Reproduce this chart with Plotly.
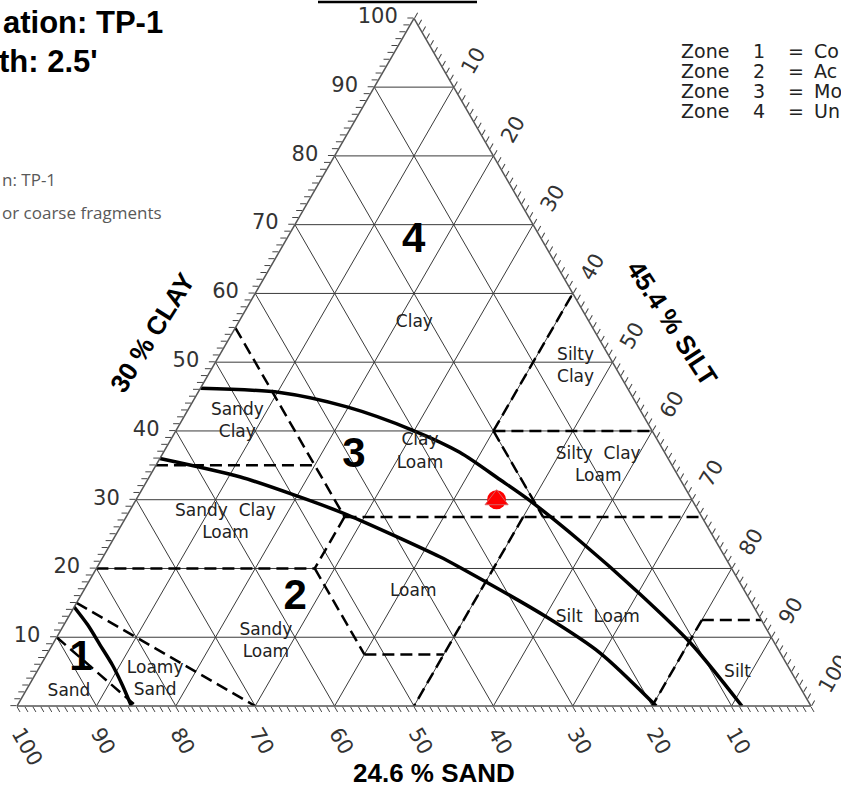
import plotly.graph_objects as go

W, H = 841, 789

# ---------------- data ----------------
SAMPLE_CLAY = 30.0
SAMPLE_SAND = 24.6
SAMPLE_SILT = 45.4

GRID_VALUES = [10, 20, 30, 40, 50, 60, 70, 80, 90]
TICK_LABEL_VALUES = [10, 20, 30, 40, 50, 60, 70, 80, 90, 100]

# USDA texture-class boundaries (clay, sand, silt) segments
BOUNDARY_SEGMENTS = [
    [(55, 45, 0), (27.5, 45, 27.5)],
    [(35, 65, 0), (35, 45, 20)],
    [(40, 20, 40), (60, 0, 40)],
    [(40, 20, 40), (40, 0, 60)],
    [(40, 20, 40), (27.5, 20, 52.5)],
    [(27.5, 45, 27.5), (27.5, 0, 72.5)],
    [(27.5, 45, 27.5), (20, 52.5, 27.5)],
    [(20, 80, 0), (20, 52.5, 27.5)],
    [(20, 52.5, 27.5), (7.5, 52.5, 40)],
    [(7.5, 52.5, 40), (7.5, 42.5, 50)],
    [(27.5, 22.5, 50), (0, 50, 50)],
    [(12.5, 7.5, 80), (12.5, 0, 87.5)],
    [(12.5, 7.5, 80), (0, 20, 80)],
    [(15, 85, 0), (0, 70, 30)],
    [(10, 90, 0), (0, 85, 15)],
]

# Zone boundary curves (clay %, silt %)
ZONE1_CLAY = [14.4, 11.8, 8.9, 6.0, 3.1, 0.0]
ZONE1_SILT = [0.0, 3.0, 6.0, 9.0, 11.7, 14.4]
ZONE23_CLAY = [36.0, 33.3, 30.4, 27.8, 21.7, 20.1, 12.9, 7.7, 0.0]
ZONE23_SILT = [0.0, 11.5, 20.4, 27.7, 42.4, 45.8, 60.3, 69.6, 80.5]
ZONE34_CLAY = [46.2, 45.6, 43.5, 40.1, 36.9, 32.9, 29.9, 24.0, 16.3, 9.2, 0.0]
ZONE34_SILT = [0.0, 10.3, 19.8, 29.8, 37.3, 44.4, 49.6, 58.9, 70.3, 80.2, 91.3]

# Texture class labels (text, clay, silt)
CLASS_NAMES = ["Clay", "Silty<br>Clay", "Sandy<br>Clay", "Clay<br>Loam",
               "Silty\u00a0\u00a0Clay<br>Loam", "Sandy\u00a0\u00a0Clay<br>Loam", "Loam",
               "Silt\u00a0\u00a0Loam", "Sandy<br>Loam", "Loamy<br>Sand", "Sand", "Silt"]
CLASS_CLAY = [55.7, 49.3, 41.3, 36.9, 35.0, 26.7, 16.6, 12.9, 9.3, 3.8, 2.1, 4.9]
CLASS_SILT = [22.2, 45.7, 7.1, 32.3, 55.7, 12.9, 41.6, 66.7, 26.7, 15.5, 5.5, 88.3]

ZONE_NAMES = ["1", "2", "3", "4"]
ZONE_CLAY = [6.7, 15.7, 36.3, 67.5]
ZONE_SILT = [4.7, 27.2, 24.3, 16.2]

# texts as visible in the (cropped) reference
TITLE_LINES = ["ation: TP-1", "th: 2.5'"]
NOTE_LINES = ["n: TP-1", "or coarse fragments"]
ZONE_NUMBERS = ["1", "2", "3", "4"]
ZONE_MEANINGS = ["Co", "Ac", "Mo", "Un"]

# ---------------- figure ----------------
fig = go.Figure()

# grid lines
ga, gb, gc = [], [], []
for v in GRID_VALUES:
    for p, q in [((v, 100 - v, 0), (v, 0, 100 - v)),
                 ((0, v, 100 - v), (100 - v, v, 0)),
                 ((0, 100 - v, v), (100 - v, 0, v))]:
        ga += [p[0], q[0], None]
        gb += [p[1], q[1], None]
        gc += [p[2], q[2], None]
fig.add_trace(go.Scatterternary(a=ga, b=gb, c=gc, mode="lines",
                                line=dict(color="#3a3a3a", width=1),
                                hoverinfo="skip", showlegend=False))

# dashed class boundaries
ba, bb, bc = [], [], []
for seg in BOUNDARY_SEGMENTS:
    for pt in seg:
        ba.append(pt[0]); bb.append(pt[1]); bc.append(pt[2])
    ba.append(None); bb.append(None); bc.append(None)
fig.add_trace(go.Scatterternary(a=ba, b=bb, c=bc, mode="lines",
                                line=dict(color="black", width=2.5, dash="12px,6px"),
                                hoverinfo="skip", showlegend=False))

# zone curves
for cl, si in [(ZONE1_CLAY, ZONE1_SILT), (ZONE23_CLAY, ZONE23_SILT), (ZONE34_CLAY, ZONE34_SILT)]:
    fig.add_trace(go.Scatterternary(a=cl, c=si, b=[100 - x - y for x, y in zip(cl, si)],
                                    mode="lines",
                                    line=dict(color="black", width=3.5, shape="spline", smoothing=0.8),
                                    hoverinfo="skip", showlegend=False))

# class labels
fig.add_trace(go.Scatterternary(a=CLASS_CLAY, c=CLASS_SILT,
                                b=[100 - x - y for x, y in zip(CLASS_CLAY, CLASS_SILT)],
                                mode="text", text=CLASS_NAMES,
                                textfont=dict(family="DejaVu Sans", size=17, color="#222"),
                                hoverinfo="skip", showlegend=False))
# zone numbers
fig.add_trace(go.Scatterternary(a=ZONE_CLAY, c=ZONE_SILT,
                                b=[100 - x - y for x, y in zip(ZONE_CLAY, ZONE_SILT)],
                                mode="text", text=ZONE_NAMES,
                                textfont=dict(family="Liberation Sans", size=42, color="black", weight="bold"),
                                hoverinfo="skip", showlegend=False))

# sample point
fig.add_trace(go.Scatterternary(a=[SAMPLE_CLAY], b=[SAMPLE_SAND], c=[SAMPLE_SILT], mode="markers",
                                marker=dict(symbol="circle", size=19, color="#ff0000", line=dict(width=0)),
                                showlegend=False))
fig.add_trace(go.Scatterternary(a=[SAMPLE_CLAY], b=[SAMPLE_SAND], c=[SAMPLE_SILT], mode="markers",
                                marker=dict(symbol="triangle-up", size=20, color="#ff0000",
                                            line=dict(width=1, color="#d86060")),
                                showlegend=False))

tickvals = list(range(0, 101))
NB = "\u00a0"


def axis(angle, pre="", post=""):
    ticktext = [pre + str(v) + post if v in TICK_LABEL_VALUES else "" for v in tickvals]
    return dict(title=dict(text=""), min=0, tickmode="array", tickvals=tickvals, ticktext=ticktext,
                ticks="outside", ticklen=6, tickwidth=1, tickcolor="#444",
                showline=True, linecolor="#555", linewidth=1.5, showgrid=False,
                tickfont=dict(family="DejaVu Sans", size=21, color="#333"), tickangle=angle)


x0, x1, ybot = 17, 811, 706
side = x1 - x0
height = side * 3 ** 0.5 / 2
fig.update_layout(
    width=W, height=H, margin=dict(l=0, r=0, t=0, b=0),
    paper_bgcolor="white", showlegend=False,
    ternary=dict(sum=100, bgcolor="white",
                 domain=dict(x=[x0 / W, x1 / W], y=[(H - ybot) / H, (H - ybot + height) / H]),
                 aaxis=axis(0, post=NB), baxis=axis(60), caxis=axis(-60, pre=NB)),
)


def px(x, y):
    return x / W, 1 - y / H


ann = []
bold = dict(family="Liberation Sans", color="black", weight="bold")
for txt, xr, yc in zip(TITLE_LINES, [165, 100], [23, 62]):
    X, Y = px(xr, yc)
    ann.append(dict(text=txt, x=X, y=Y, xref="paper", yref="paper", xanchor="right", yanchor="middle",
                    showarrow=False, font=dict(size=31, **bold)))
for txt, xr, yc in zip(NOTE_LINES, [58, 164], [180, 213]):
    X, Y = px(xr, yc)
    ann.append(dict(text=txt, x=X, y=Y, xref="paper", yref="paper", xanchor="right", yanchor="middle",
                    showarrow=False, font=dict(family="Open Sans", size=17, color="#595959")))
zfont = dict(family="DejaVu Sans", size=19, color="#222")
for i, (num, mean) in enumerate(zip(ZONE_NUMBERS, ZONE_MEANINGS)):
    yc = 51 + 20 * i
    for txt, xl in [("Zone", 679), (num, 751), ("=", 786), (mean, 812)]:
        X, Y = px(xl, yc)
        ann.append(dict(text=txt, x=X, y=Y, xref="paper", yref="paper", xanchor="left", yanchor="middle",
                        showarrow=False, font=zfont))
for txt, cx, cy, ang in [(f"{SAMPLE_CLAY:g} % CLAY", 152, 333, -58),
                         (f"{SAMPLE_SILT:g} % SILT", 672, 323, 57),
                         (f"{SAMPLE_SAND:g} % SAND", 434, 773, 0)]:
    X, Y = px(cx, cy)
    ann.append(dict(text=txt, x=X, y=Y, xref="paper", yref="paper", xanchor="center", yanchor="middle",
                    showarrow=False, textangle=ang, font=dict(size=26, **bold)))
fig.update_layout(annotations=ann)

Xa, Ya = px(318, 2)
Xb, _ = px(477, 2)
fig.add_shape(type="line", xref="paper", yref="paper", x0=Xa, x1=Xb, y0=Ya, y1=Ya,
              line=dict(color="black", width=2.5))

fig.write_html("out.html", config={"displayModeBar": False},
               post_script="document.body.style.margin='0px';document.body.style.overflow='hidden';")
